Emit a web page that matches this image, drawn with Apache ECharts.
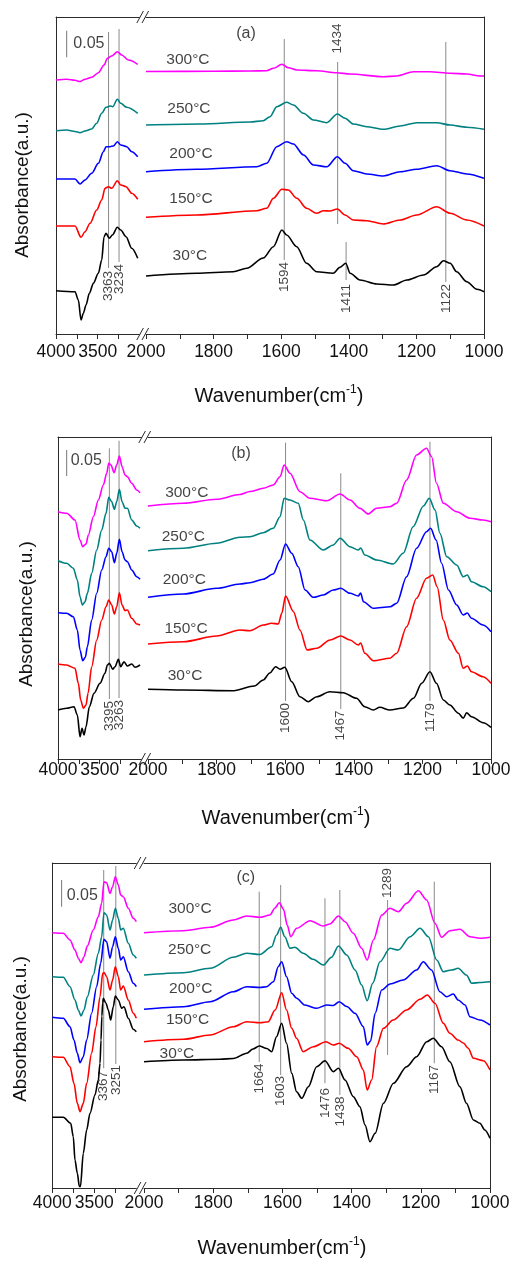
<!DOCTYPE html>
<html><head><meta charset="utf-8">
<script src="https://cdn.jsdelivr.net/npm/echarts@6/dist/echarts.min.js"></script>
<style>html,body{margin:0;padding:0;background:#fff}#c{width:513px;height:1261px}</style>
</head><body><div id="c"></div>
<script>
// ---------- DATA (wavenumber cm-1, absorbance in arbitrary offset units) ----------
const TEMPS = ['300°C','250°C','200°C','150°C','30°C'];
const COLORS = ['#ff00ff','#008080','#0000ff','#ff0000','#000000'];

// Panel (a)
const a300L = [[4000,254],[3872,254.7],[3772,253.7],[3712,252.5],[3652,254.7],[3572,256.7],[3492,261.3],[3424,269],[3384,275.7],[3332,278],[3264,282.3],[3212,279],[3132,274],[3020,269.7]];
const a250L = [[4000,203.3],[3872,204],[3772,202.5],[3712,201.3],[3652,203],[3572,205],[3512,210.7],[3452,220.7],[3400,226.7],[3352,228],[3320,227.3],[3264,234.7],[3224,230.7],[3152,226.7],[3020,220.7]];
const a200L = [[4000,155],[3872,155],[3772,155],[3712,150],[3652,154],[3572,160.7],[3492,170.7],[3432,182.3],[3400,187.3],[3352,187.3],[3312,188],[3264,192.3],[3224,189],[3152,187.3],[3092,182.3],[3020,177.3]];
const a150L = [[4000,108],[3872,108],[3772,108],[3700,96.7],[3652,102.3],[3592,110.7],[3512,124],[3452,134],[3412,145.7],[3372,147.3],[3332,145.7],[3264,153.3],[3224,149],[3160,147.3],[3092,140.7],[3020,134.7]];
const a30L = [[4000,43.3],[3772,42.3],[3732,34],[3700,14],[3672,20.7],[3640,29],[3600,40.7],[3552,50.7],[3492,60.7],[3452,74],[3424,97.3],[3400,100.7],[3360,95.7],[3324,99],[3264,106.7],[3224,104],[3160,97.3],[3092,85.7],[3020,75.7]];
const a300R = [[2000,262.5],[1800,262.7],[1692,263],[1643,263.3],[1623,265.7],[1598,269.7],[1579,266.3],[1554,264],[1495,263.3],[1436,261.3],[1396,260],[1298,257.3],[1258,258],[1209,262.3],[1160,262.3],[1100,260.7],[1051,260],[1012,258],[1000,258]];
const a250R = [[2000,209],[1840,210],[1692,212],[1653,213.3],[1633,217.3],[1613,227.3],[1584,231.7],[1564,229],[1534,220.7],[1505,214],[1465,211.3],[1434,220],[1411,215.7],[1387,210],[1347,207.3],[1298,204.7],[1248,208],[1199,211.3],[1140,211.3],[1100,209],[1051,206.7],[1000,204.7]];
const a200R = [[2000,162.3],[1850,164.7],[1672,167.3],[1643,170.7],[1613,187.3],[1584,192.3],[1564,190],[1534,179],[1505,169],[1465,167.3],[1434,177.3],[1411,170.7],[1387,163.3],[1347,160],[1298,158],[1248,162.3],[1199,164.7],[1140,168.3],[1100,163.3],[1051,160],[1000,155.7]];
const a150R = [[2000,116.7],[1850,119],[1672,123.3],[1643,125.7],[1623,135.7],[1598,144.7],[1579,144],[1554,135.7],[1525,125.7],[1495,120.7],[1475,123.3],[1456,123],[1434,125],[1411,119],[1387,114],[1347,113.3],[1298,110],[1248,114],[1199,119],[1140,127.3],[1100,120.7],[1051,114],[1000,108]];
const a30R = [[2000,58],[1850,60.7],[1742,62.3],[1702,65.7],[1653,76],[1623,87.3],[1598,104],[1584,99],[1554,87.3],[1525,70.7],[1495,62.3],[1446,60.7],[1426,66.7],[1409,70.7],[1396,60.7],[1367,54],[1317,50],[1268,49],[1228,54],[1179,59],[1140,67.3],[1120,73.3],[1100,70.7],[1081,62.3],[1051,52.3],[1021,44.7],[1000,42.3]];
// peak marks: [wavenumber, line low, line high, label, label anchor]
const aPeaks = [[3370,66,302,'3363',63],[3244,72,305,'3234',70],[1591,74,295,'1594',72],[1433,110,272,'1434',280.5],[1408,54,92,'1411',50],[1113,52,292,'1122',50]];
const aTempPos = [[1876,274],[1873,225],[1867,180],[1867,135],[1870,78]];
const aScaleBar = [3872,276.7,303.3];
const aScaleText = [3792,290];
const aLetter = [1704,300];

// Panel (b)
const b300L = [[4000,247.3],[3896,245.7],[3796,239],[3736,219],[3704,212.3],[3664,215],[3636,224],[3576,242.3],[3516,259],[3456,274],[3416,285.7],[3392,295.7],[3364,294],[3328,286.3],[3296,294],[3264,303],[3232,292.3],[3196,284],[3168,282.3],[3116,275.7],[3056,269],[3016,266.3]];
const b250L = [[4000,198.3],[3896,195.7],[3816,190.7],[3768,179],[3736,162.3],[3708,154],[3676,157.3],[3648,165.7],[3596,185.7],[3536,209],[3476,229],[3424,245.7],[3392,261.7],[3356,257.3],[3324,249.7],[3296,257.3],[3264,269.7],[3232,257.3],[3196,250.7],[3168,250.7],[3116,239],[3056,233],[3016,230.7]];
const b200L = [[4000,146.3],[3896,145.7],[3816,142.3],[3768,129],[3736,109],[3704,98.3],[3672,101.7],[3648,112.3],[3596,139],[3536,165.7],[3476,189],[3424,202.3],[3392,210.7],[3356,207.3],[3324,196.3],[3296,205.7],[3264,219.7],[3232,207.3],[3196,199],[3168,197.3],[3116,189],[3056,182.3],[3016,179.7]];
const b150L = [[4000,95],[3896,94],[3796,90.7],[3756,75.7],[3728,59],[3696,50.7],[3664,54],[3640,65.7],[3596,92.3],[3536,119],[3476,139],[3424,152.3],[3392,159],[3356,154],[3324,145],[3296,152.3],[3264,166.3],[3232,154],[3196,148.3],[3168,149],[3116,140.7],[3056,135],[3016,134]];
const b30L = [[4000,49],[3896,50.7],[3808,52.3],[3768,44],[3736,22.3],[3712,30.7],[3688,24],[3664,32.3],[3624,52.3],[3568,65.7],[3496,75.7],[3436,85.7],[3408,94],[3384,95.7],[3344,89.7],[3316,92.3],[3276,99.7],[3248,92.3],[3208,97.3],[3168,93],[3116,95],[3076,91.7],[3016,94]];
const b300R = [[2000,253],[1897,255.7],[1800,259.7],[1732,264.5],[1703,267.5],[1664,270.7],[1635,274],[1615,282.3],[1603,294],[1586,285.7],[1557,267.3],[1528,260.7],[1479,258.3],[1440,265],[1411,259],[1382,250.7],[1358,245],[1334,250.7],[1295,252.3],[1275,255.7],[1246,279],[1217,304],[1188,310.7],[1173,302.3],[1159,275.7],[1139,255.7],[1100,247.3],[1061,240.7],[1023,239],[1000,237.3]];
const b250R = [[2000,208.3],[1897,210.7],[1800,215.7],[1732,221.7],[1703,222.3],[1664,226.3],[1635,230.7],[1615,242.3],[1603,260.7],[1586,259],[1562,255.7],[1547,239],[1528,219],[1489,209],[1460,214],[1440,220.7],[1411,212.3],[1387,209],[1380,211],[1368,204],[1333,199],[1285,195],[1256,205.7],[1227,232.3],[1197,253],[1180,260.7],[1163,249],[1149,225.7],[1129,202.3],[1100,194],[1081,182.3],[1069,184],[1057,177.3],[1023,172.3],[1000,167.3]];
const b200R = [[2000,161.7],[1897,165],[1800,170.7],[1732,175],[1703,176.3],[1664,179.7],[1635,185],[1615,199],[1599,215],[1581,205.7],[1562,192.3],[1542,169],[1518,161.7],[1489,164],[1460,169],[1438,170.7],[1411,165.7],[1387,163],[1380,166],[1372,157.3],[1343,150.7],[1294,152.3],[1275,155.7],[1246,182.3],[1217,210.7],[1188,227.3],[1176,230.7],[1160,219],[1144,195.7],[1124,169],[1100,154],[1081,144],[1069,146],[1057,140.7],[1023,134],[1000,127.3]];
const b150R = [[2000,115],[1897,117.3],[1800,123],[1732,129],[1703,128.3],[1664,134],[1640,135.7],[1620,135],[1610,145.7],[1599,163],[1576,147.3],[1557,129],[1536,109],[1508,110.7],[1469,119],[1438,123],[1411,119],[1387,114],[1380,116],[1368,105.7],[1343,98.3],[1295,100.7],[1275,105.7],[1246,132.3],[1217,160.7],[1188,180.7],[1170,184],[1157,172.3],[1139,139],[1120,119],[1095,105.7],[1081,90.7],[1069,93],[1057,87.3],[1023,82.3],[1000,75.7]];
const b30R = [[2000,69.7],[1897,69],[1750,68.3],[1690,73],[1664,79],[1645,86],[1628,92.3],[1615,89.7],[1601,91.7],[1581,77.3],[1557,62.3],[1533,57.3],[1508,62.3],[1470,67.3],[1431,66.3],[1392,60.7],[1368,52.3],[1343,49],[1324,51.7],[1295,49],[1256,51],[1226,60.7],[1202,75.7],[1178,87.3],[1159,75.7],[1139,59],[1120,54],[1095,45.7],[1081,40.7],[1071,46.3],[1057,42.3],[1023,36.3],[1000,31.7]];
const bPeaks = [[3384,60,310.7,'3395',58],[3268,61,318.3,'3263',59],[1599,58,316.3,'1600',56],[1438,50,285.7,'1467',48.5],[1178,58,317.3,'1179',56]];
const bTempPos = [[1887,266.7],[1897,222.3],[1894,179],[1889,130],[1892,83.3]];
const bScaleBar = [3896,283,309];
const bScaleText = [3848,298.3];
const bLetter = [1729,305];

// Panel (c)
const c300L = [[4000,255.3],[3869,254.7],[3789,248],[3730,238],[3690,229.7],[3658,225.3],[3623,231.3],[3583,242],[3512,258],[3452,271.3],[3412,284.7],[3385,306.3],[3353,305.3],[3313,294.7],[3282,301.3],[3250,311.3],[3214,303],[3186,293],[3155,291.3],[3095,279.7],[3036,269.7],[3000,266.3]];
const c250L = [[4000,211.3],[3869,210.7],[3789,201.3],[3730,188],[3690,178],[3658,172],[3623,178],[3583,191.3],[3512,213],[3452,234.7],[3412,251.3],[3385,275.3],[3353,273],[3313,258],[3282,268],[3250,279.7],[3214,269.7],[3186,258],[3155,259.7],[3095,244.7],[3036,233],[3000,229.7]];
const c200L = [[4000,170.7],[3869,169.7],[3789,161.3],[3742,148],[3702,134.7],[3670,125.3],[3631,131.3],[3591,148],[3532,174.7],[3472,201.3],[3424,224.7],[3385,248.7],[3353,246.3],[3313,229.7],[3282,241.3],[3250,251.3],[3214,239.7],[3186,228],[3155,231.3],[3095,216.3],[3036,204.7],[3000,201.3]];
const c150L = [[4000,131.3],[3869,130.7],[3789,121.3],[3742,104.7],[3702,84.7],[3670,76.3],[3631,84.7],[3591,104.7],[3532,134.7],[3480,161.3],[3432,191.3],[3400,214.7],[3381,215.3],[3353,211.3],[3313,198],[3282,208],[3250,221.3],[3214,211.3],[3186,198],[3155,202],[3095,188],[3036,174.7],[3000,169.7]];
const c30L = [[4000,70.7],[3869,70.7],[3781,64.7],[3750,51.3],[3730,28],[3702,14.7],[3678,1.5],[3665,1.5],[3631,34.7],[3591,58],[3551,74.7],[3492,93],[3452,108],[3432,124.7],[3420,148],[3410,172],[3400,185],[3393,189.7],[3361,184.7],[3333,178],[3305,168],[3274,181.3],[3250,192],[3214,188],[3174,179.7],[3147,181.3],[3095,169.7],[3036,158.7],[3000,156.3]];
const c300R = [[2000,255.3],[1886,257.3],[1809,260.7],[1742,268],[1703,272],[1665,270.7],[1636,273],[1622,279.7],[1609,285.3],[1597,279],[1586,263],[1576,251.3],[1559,259.7],[1520,267.3],[1482,262],[1463,264],[1438,272],[1419,266.3],[1395,254.7],[1371,239.7],[1355,228],[1337,248],[1313,273],[1289,279.7],[1265,276.3],[1241,284.7],[1207,297.3],[1183,288],[1159,264.7],[1140,250.7],[1116,257.3],[1087,258.7],[1058,251.3],[1029,249.7],[1000,250.7]];
const c250R = [[2000,213],[1886,215.3],[1809,219.7],[1742,230.7],[1703,234.7],[1665,233.5],[1631,241.3],[1617,253],[1605,260.7],[1593,251.3],[1578,239.7],[1564,240.7],[1540,234.7],[1511,228.7],[1482,223],[1458,230.7],[1438,242],[1414,233],[1390,218],[1371,203],[1355,187.3],[1339,204.7],[1318,226.3],[1289,239.7],[1265,238],[1231,251.3],[1202,259.7],[1178,251.3],[1154,228],[1135,216.3],[1111,218],[1092,219.7],[1068,213],[1053,204.7],[1029,205.5],[1000,206.3]];
const c200R = [[2000,178.7],[1886,181.3],[1809,186.3],[1742,196.3],[1703,201.3],[1665,200.5],[1646,201.3],[1626,206.3],[1612,221.3],[1602,226.3],[1588,211.3],[1573,194.7],[1559,189.7],[1535,183],[1501,179.7],[1472,183],[1453,182.5],[1436,186.3],[1414,181.5],[1390,174.7],[1366,161.3],[1355,143],[1345,147],[1332,174.7],[1313,198],[1289,204],[1251,208],[1212,218],[1193,226.3],[1169,218],[1145,196.3],[1125,191.3],[1106,194],[1092,188],[1072,183],[1058,171.3],[1029,168],[1000,163]];
const c150R = [[2000,146.3],[1886,148.7],[1809,153],[1742,161.3],[1703,166.3],[1665,165.3],[1641,166.3],[1621,178],[1602,195.3],[1588,178],[1573,159.7],[1559,149.7],[1540,136.3],[1511,141.3],[1474,146.3],[1453,143],[1436,144.7],[1410,139.7],[1385,131.3],[1366,118],[1355,98],[1342,108],[1328,141.3],[1308,159.7],[1280,168],[1241,178],[1202,188.7],[1181,193],[1159,184.7],[1135,164.7],[1116,154.7],[1092,148],[1077,145],[1063,139.7],[1048,129.7],[1019,127.3],[1000,118]];
const c30R = [[2000,126.3],[1886,128],[1780,128.7],[1742,129.5],[1703,134.7],[1685,139],[1667,142],[1645,139.5],[1631,136.3],[1617,151.3],[1602,164.7],[1588,144.7],[1573,114.7],[1559,96.3],[1544,89.7],[1525,101.3],[1501,121.3],[1477,127.3],[1453,116.3],[1438,119.7],[1419,108],[1395,91.3],[1376,81.3],[1361,63],[1347,46.3],[1332,54.7],[1308,84.7],[1279,104.7],[1241,121.3],[1212,131.3],[1183,146.3],[1164,149.7],[1140,141.3],[1116,126.3],[1087,101.3],[1068,84.7],[1048,68],[1029,64.7],[1015,58],[1000,49.7]];
const cPeaks = [[3388,119.7,318,'3367',117],[3244,124,322,'3251',123],[1667,126,296.3,'1664',124.5],[1605,113,303,'1603',112],[1477,104.7,289.7,'1476',100],[1434,93,298,'1438',91.5],[1296,133,288,'1289',290],[1161,124.7,306.3,'1167',123]];
const cTempPos = [[1867,279.7],[1868,238],[1865,199.7],[1874,168],[1905,134]];
const cScaleBar = [3889,281.3,308];
const cScaleText = [3829,292.3];
const cLetter = [1706,310.5];

const Y_MAX = [317, 322, 325];
const LEFT_TICKS = [4000,3750,3500,3250];
const LEFT_LABELS = [4000,3500];
const RIGHT_LABELS = [2000,1800,1600,1400,1200,1000];
const SCALE_TEXT = '0.05';

// ---------- LAYOUT ----------
const FONT = 'Liberation Sans, Arial, Helvetica, sans-serif';
const INK = '#111';
const FRAME = '#2b2b2b';
const LAYOUT = [
  {top:17,  h:317, lL:56,   lW:83.4, rL:146, rW:338, lm:9.5, xt:[279,396],  yt:[23,185]},
  {top:437, h:322, lL:58,   lW:83.4, rL:148, rW:343, lm:2,   xt:[286,818],  yt:[27,614]},
  {top:863, h:325, lL:52.3, lW:84,   rL:144, rW:346, lm:6.5, xt:[282,1248], yt:[21,1029]}
];

const PANELS = [
  {name:'(a)', L:[a300L,a250L,a200L,a150L,a30L], R:[a300R,a250R,a200R,a150R,a30R], peaks:aPeaks, temps:aTempPos, bar:aScaleBar, barText:aScaleText, letter:aLetter},
  {name:'(b)', L:[b300L,b250L,b200L,b150L,b30L], R:[b300R,b250R,b200R,b150R,b30R], peaks:bPeaks, temps:bTempPos, bar:bScaleBar, barText:bScaleText, letter:bLetter},
  {name:'(c)', L:[c300L,c250L,c200L,c150L,c30L], R:[c300R,c250R,c200R,c150R,c30R], peaks:cPeaks, temps:cTempPos, bar:cScaleBar, barText:cScaleText, letter:cLetter}
];

const grid = [], xAxis = [], yAxis = [], series = [], graphic = [];

function hiddenTopAxis(gi, min, max){
  return {type:'value', gridIndex:gi, position:'top', min, max, inverse:true,
    axisLine:{show:true, onZero:false, lineStyle:{color:FRAME, width:1}},
    axisTick:{show:false}, axisLabel:{show:false}, splitLine:{show:false}};
}

PANELS.forEach((p, i) => {
  const lay = LAYOUT[i];
  const gL = 2*i, gR = 2*i+1;
  grid.push({left:lay.lL, top:lay.top, width:lay.lW, height:lay.h, outerBoundsMode:'none'});
  grid.push({left:lay.rL, top:lay.top, width:lay.rW, height:lay.h, outerBoundsMode:'none'});
  const labelStyle = {fontSize:17.5, fontFamily:FONT, color:INK, margin:lay.lm, showMinLabel:true, showMaxLabel:true, hideOverlap:false};
  // left segment bottom
  xAxis.push({type:'value', gridIndex:gL, min:3000, max:4000, interval:250, inverse:true,
    axisLine:{show:true, onZero:false, lineStyle:{color:FRAME, width:1}},
    axisTick:{show:true, inside:false, length:5, customValues:LEFT_TICKS, lineStyle:{color:FRAME}},
    axisLabel:Object.assign({show:true, customValues:LEFT_LABELS,
      formatter:v => LEFT_LABELS.includes(v) ? String(v) : ''}, labelStyle),
    splitLine:{show:false}});
  xAxis.push(hiddenTopAxis(gL, 3000, 4000));
  // right segment bottom
  xAxis.push({type:'value', gridIndex:gR, min:1000, max:2000, interval:100, inverse:true,
    axisLine:{show:true, onZero:false, lineStyle:{color:FRAME, width:1}},
    axisTick:{show:true, inside:false, length:5, lineStyle:{color:FRAME}},
    axisLabel:Object.assign({show:true, customValues:RIGHT_LABELS,
      formatter:v => RIGHT_LABELS.includes(v) ? String(v) : ''}, labelStyle),
    splitLine:{show:false}});
  xAxis.push(hiddenTopAxis(gR, 1000, 2000));
  const xiL = 4*i, xiR = 4*i+2;
  yAxis.push({type:'value', gridIndex:gL, min:0, max:Y_MAX[i], position:'left',
    axisLine:{show:true, onZero:false, lineStyle:{color:FRAME, width:1}}, axisTick:{show:false}, axisLabel:{show:false}, splitLine:{show:false}});
  yAxis.push({type:'value', gridIndex:gR, min:0, max:Y_MAX[i], position:'right',
    axisLine:{show:true, onZero:false, lineStyle:{color:FRAME, width:1}}, axisTick:{show:false}, axisLabel:{show:false}, splitLine:{show:false}});
  const yiL = 2*i, yiR = 2*i+1;

  // spectra
  TEMPS.forEach((t, k) => {
    [[p.L[k], xiL, yiL], [p.R[k], xiR, yiR]].forEach(([d, xi, yi]) => {
      series.push({type:'line', name:t, data:d, xAxisIndex:xi, yAxisIndex:yi, symbol:'none',
        smooth:0.3, smoothMonotone:'x', silent:true, z:3,
        lineStyle:{color:COLORS[k], width:1.6}});
    });
  });

  // peak lines and labels
  p.peaks.forEach(pk => {
    const left = pk[0] > 2000;
    const xi = left ? xiL : xiR, yi = left ? yiL : yiR;
    series.push({type:'line', data:[[pk[0], pk[1]],[pk[0], pk[2]]], xAxisIndex:xi, yAxisIndex:yi,
      symbol:'none', silent:true, z:2, lineStyle:{color:'#8a8a8a', width:1}});
    const up = pk[4] > pk[2];
    series.push({type:'scatter', xAxisIndex:xi, yAxisIndex:yi, symbolSize:0, silent:true, z:5,
      data:[{value:[pk[0], pk[4]], label:{show:true, formatter:pk[3], rotate:90, position:[0,0],
        align: up ? 'left' : 'right', verticalAlign:'middle', fontSize:13.5, fontFamily:FONT, color:INK}}]});
  });

  // temperature labels
  series.push({type:'scatter', xAxisIndex:xiR, yAxisIndex:yiR, symbolSize:0, silent:true, z:5,
    data:TEMPS.map((t, k) => ({name:t, value:p.temps[k]})),
    label:{show:true, position:'inside', formatter:'{b}', fontSize:15.5, fontFamily:FONT, color:INK}});

  // scale bar
  series.push({type:'line', data:[[p.bar[0], p.bar[1]],[p.bar[0], p.bar[2]]], xAxisIndex:xiL, yAxisIndex:yiL,
    symbol:'none', silent:true, z:2, lineStyle:{color:'#777', width:1}});
  series.push({type:'scatter', xAxisIndex:xiL, yAxisIndex:yiL, symbolSize:0, silent:true, z:5,
    data:[{value:p.barText, label:{show:true, formatter:SCALE_TEXT, position:[0,0], align:'left', verticalAlign:'middle',
      fontSize:16, fontFamily:FONT, color:INK}}]});

  // panel letter
  series.push({type:'scatter', xAxisIndex:xiR, yAxisIndex:yiR, symbolSize:0, silent:true, z:5,
    data:[{value:p.letter, name:p.name}],
    label:{show:true, position:'inside', formatter:'{b}', fontSize:16, fontFamily:FONT, color:INK}});

  // axis titles
  graphic.push({type:'text', x:lay.xt[0], y:lay.xt[1], silent:true,
    style:{text:'{a|Wavenumber(cm}{s|-1}{a|)}', align:'center', verticalAlign:'middle',
      textAlign:'center', textVerticalAlign:'middle', fill:INK, fontSize:20, fontFamily:FONT,
      rich:{a:{fontSize:20, fontFamily:FONT, fill:INK, lineHeight:24},
            s:{fontSize:12, fontFamily:FONT, fill:INK, verticalAlign:'top', lineHeight:12}}}});
  graphic.push({type:'text', x:lay.yt[0], y:lay.yt[1], rotation:Math.PI/2, silent:true,
    style:{text:'Absorbance(a.u.)', align:'center', verticalAlign:'middle', textAlign:'center', textVerticalAlign:'middle',
      fill:INK, fontSize:19, fontFamily:FONT}});

  // axis break marks
  const gx = (lay.lL + lay.lW + lay.rL) / 2;
  [lay.top, lay.top + lay.h].forEach(yy => {
    [-2.6, 2.6].forEach(dx => {
      graphic.push({type:'line', silent:true,
        shape:{x1:gx+dx-3.3, y1:yy+6, x2:gx+dx+3.3, y2:yy-6},
        style:{stroke:FRAME, lineWidth:1}});
    });
  });
});

const chart = echarts.init(document.getElementById('c'), null, {renderer:'canvas'});
chart.setOption({animation:false, backgroundColor:'#fff', grid, xAxis, yAxis, series, graphic});
</script></body></html>
